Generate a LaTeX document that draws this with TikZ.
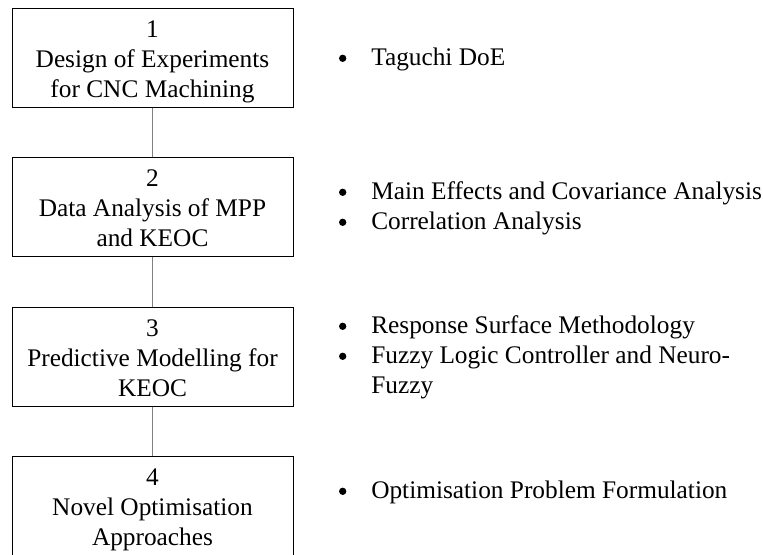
\documentclass[tikz,border=0pt]{standalone}
\usepackage{fontspec}
\setmainfont{Liberation Serif}
\definecolor{linkgray}{RGB}{128,128,128}
% struts that fix the height of the first line and the depth of the last
\newcommand\boxtopstrut{\rule{0pt}{20.25pt}}
\newcommand\boxbotstrut{\rule[-5.25pt]{0pt}{5.25pt}}
\begin{document}
\begin{tikzpicture}[x=0.75pt,y=-0.75pt,
  stagebox/.style={draw=black,line width=0.75pt,minimum width=210.75pt,
    minimum height=74.25pt,inner sep=0pt,align=center,
    font=\fontsize{19}{22.25}\selectfont},
  link/.style={draw=linkgray,line width=0.75pt},
  itemtext/.style={anchor=base west,inner sep=0pt,
    font=\fontsize{19}{22.25}\selectfont},
  bulletdot/.style={circle,fill=black,draw=none,inner sep=0pt,minimum size=5.5pt}]
\useasboundingbox (0,0) rectangle (763,554);
\clip (0,0) rectangle (763,554);

% stages
\node[stagebox] (b1) at (152.5,57.5)
  {\boxtopstrut 1\\Design of Experiments\\for CNC Machining\boxbotstrut};
\node[stagebox] (b2) at (152.5,206.5)
  {\boxtopstrut 2\\Data Analysis of MPP\\and KEOC\boxbotstrut};
\node[stagebox] (b3) at (152.5,356.5)
  {\boxtopstrut 3\\Predictive Modelling for\\KEOC\boxbotstrut};
\node[stagebox] (b4) at (152.5,505.5)
  {\boxtopstrut 4\\Novel Optimisation\\Approaches\boxbotstrut};

% links between stages
\draw[link] (b1.south) -- (b2.north);
\draw[link] (b2.south) -- (b3.north);
\draw[link] (b3.south) -- (b4.north);

% methods for each stage
\node[itemtext] (m1) at (371,65) {Taguchi DoE};
\node[itemtext] (m2) at (371,199) {Main Effects and Covariance Analysis};
\node[itemtext] (m3) at (371,229) {Correlation Analysis};
\node[itemtext] (m4) at (371,333) {Response Surface Methodology};
\node[itemtext] (m5) at (371,363) {Fuzzy Logic Controller and Neuro-};
\node[itemtext] (m5b) at (371,393) {Fuzzy};
\node[itemtext] (m6) at (371,498) {Optimisation Problem Formulation};

% bullets
\foreach \n/\y in {d1/65,d2/199,d3/229,d4/333,d5/363,d6/498}
  \node[bulletdot] (\n) at (342.7,\y-6.7) {};
\end{tikzpicture}
\end{document}
